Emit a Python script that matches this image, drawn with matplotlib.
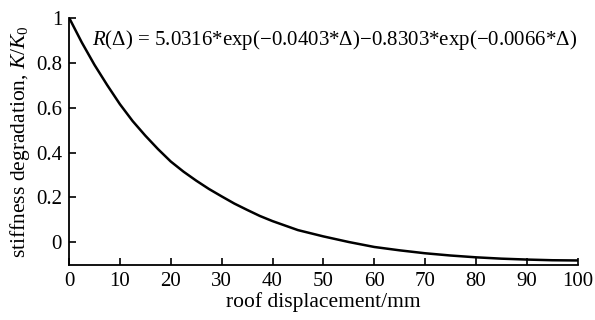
import matplotlib.pyplot as plt

plt.rcParams['font.family'] = ['Liberation Serif', 'DejaVu Serif']
plt.rcParams['mathtext.fontset'] = 'custom'
plt.rcParams['mathtext.rm'] = 'Liberation Serif'
plt.rcParams['mathtext.it'] = 'Liberation Serif:italic'

# roof displacement (mm) and normalised stiffness K/K0
disp = [0, 2.5, 5, 7.5, 10, 12.5, 15, 17.5, 20, 22.5, 25, 27.5, 30, 32.5, 35, 37.5, 40,
        45, 50, 55, 60, 65, 70, 75, 80, 85, 90, 95, 100]
stiff = [1.0, 0.89, 0.79, 0.70, 0.615, 0.54, 0.475, 0.415, 0.36, 0.315, 0.275, 0.238,
         0.205, 0.173, 0.145, 0.118, 0.095,
         0.055, 0.027, 0.002, -0.02, -0.035, -0.048, -0.058, -0.066, -0.072, -0.076,
         -0.079, -0.08]

xticks = list(range(0, 101, 10))
yticks = [0, 0.2, 0.4, 0.6, 0.8, 1]
ylabels = ['0', '0.2', '0.4', '0.6', '0.8', '1']

fig = plt.figure(figsize=(5.95, 3.2), dpi=100)
ax = fig.add_axes([0.116, 0.172, 0.855, 0.773])

ax.plot(disp, stiff, color='black', lw=1.8)

ax.set_xlim(0, 100)
ax.set_ylim(-0.1, 1)
ax.set_xticks(xticks)
ax.set_yticks(yticks)
ax.set_yticklabels(ylabels)
ax.tick_params(direction='in', length=5, width=1.2, labelsize=15, pad=5)

for s in ['top', 'right']:
    ax.spines[s].set_visible(False)
for s in ['left', 'bottom']:
    ax.spines[s].set_linewidth(1.3)

ax.set_xlabel('roof displacement/mm', fontsize=15.5, labelpad=1)
ax.set_ylabel('stiffness degradation, $K/K_0$', fontsize=15.5, labelpad=3)

ax.text(4.5, 0.9, '$R$(Δ) = 5.0316*exp(−0.0403*Δ)−0.8303*exp(−0.0066*Δ)',
        fontsize=15, va='center', ha='left')

fig.savefig('out.png', dpi=100)
